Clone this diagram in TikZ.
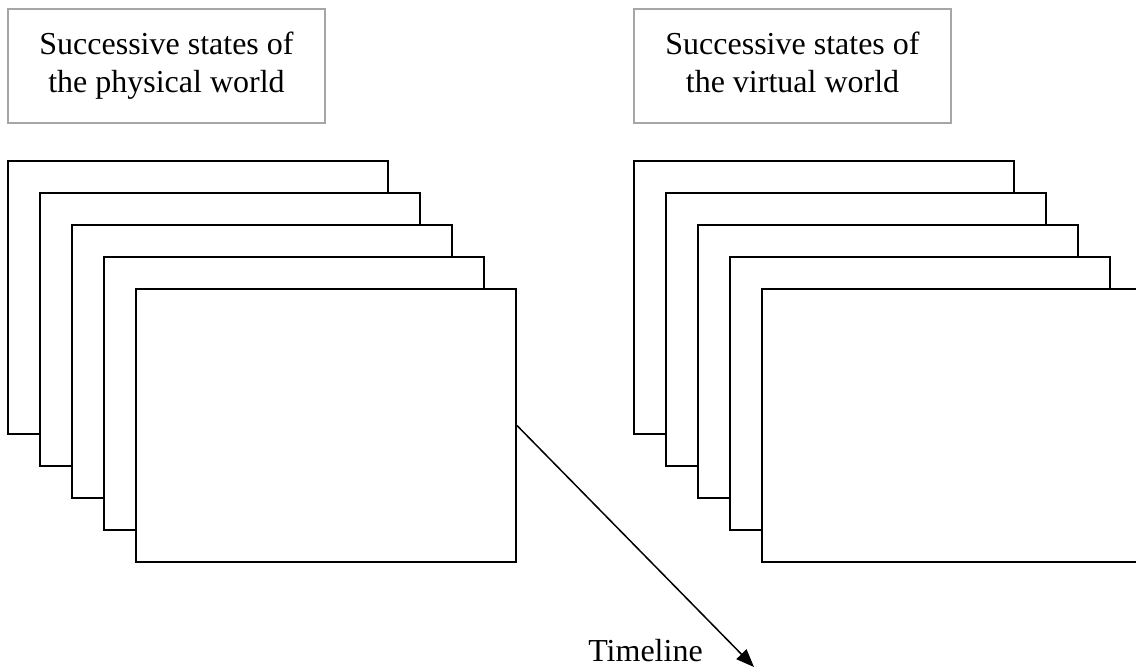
\documentclass[tikz,border=0pt]{standalone}
\usepackage{fontspec}
\setmainfont{Liberation Serif}
\usetikzlibrary{arrows.meta}
\begin{document}
\begin{tikzpicture}[x=1pt,y=-1pt,
  titlebox/.style={draw=gray!70, line width=1.5pt, fill=white,
    minimum width=317pt, minimum height=114pt, inner sep=0pt,
    align=center, font=\fontsize{32}{38}\selectfont},
  stateframe/.style={draw=black, line width=2pt, fill=white,
    minimum width=380pt, minimum height=273pt, inner sep=0pt},
  caption/.style={font=\fontsize{32}{38}\selectfont, inner sep=0pt},
  timeline/.style={line width=1.5pt, -{Triangle[length=18pt,width=14pt]}},
]
\clip (0,0) rectangle (1136,671);

% headings
\node[titlebox] (physTitle) at (166.5,66) {\strut Successive states of\\\strut the physical world};
\node[titlebox] (virtTitle) at (792.5,66) {\strut Successive states of\\\strut the virtual world};

% stacks of states, back to front
\foreach \i in {1,...,5} {
  \node[stateframe] (p\i) at ({198+32*(\i-1)}, {297.5+32*(\i-1)}) {};
  \node[stateframe] (v\i) at ({824+32*(\i-1)}, {297.5+32*(\i-1)}) {};
}

% time axis
\coordinate (tEnd) at (754,667);
\draw[timeline] (p5.east) -- (tEnd);
\node[caption, anchor=base] (tl) at (645.5,661) {Timeline};
\end{tikzpicture}
\end{document}
